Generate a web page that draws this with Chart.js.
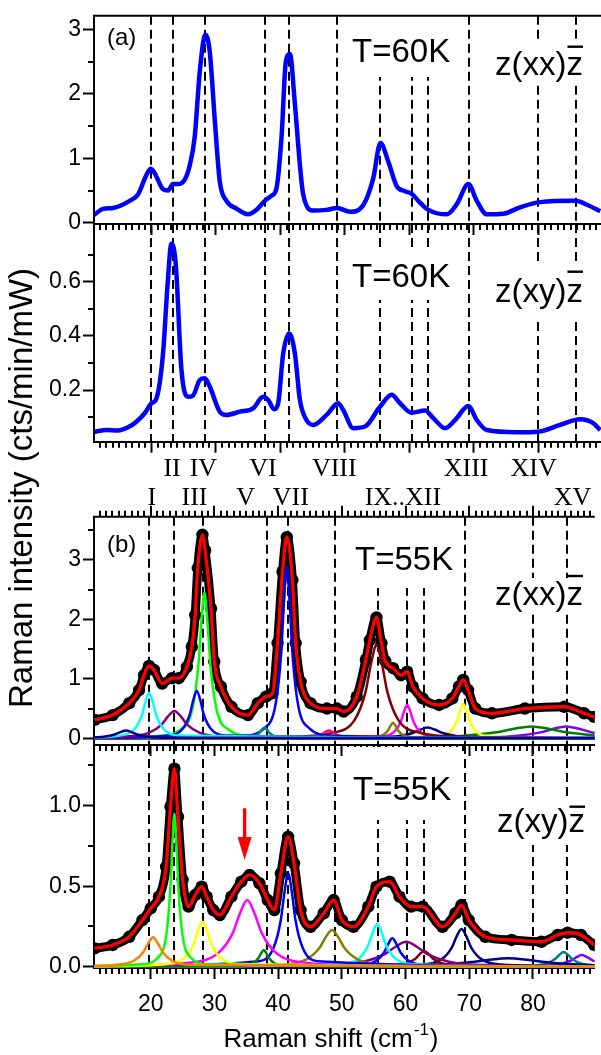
<!DOCTYPE html>
<html>
<head>
<meta charset="utf-8">
<script src="https://cdn.jsdelivr.net/npm/chart.js@4.4.1/dist/chart.umd.min.js"></script>
<style>
  html, body { margin: 0; padding: 0; background: #fff; }
  #wrap { position: relative; width: 601px; height: 1055px; overflow: hidden; background: #fff; }
  #wrap canvas { position: absolute; left: 0; top: 0; }
</style>
</head>
<body>
<div id="wrap">
  <canvas id="panelA1" width="601" height="1055"></canvas>
  <canvas id="panelA2" width="601" height="1055"></canvas>
  <canvas id="panelB1" width="601" height="1055"></canvas>
  <canvas id="panelB2" width="601" height="1055"></canvas>
</div>
<script>
// ---- axes (Raman shift in cm-1) ----
const xRange = [11.1, 89.7];
const xMajorTicks = [20, 30, 40, 50, 60, 70, 80];
const xMinorTicks = [];
for (let v = 12; v <= 89; v++) {
  if (v % 10 !== 0) xMinorTicks.push(v);
}

// mode positions (dashed lines) and their roman labels
const modesA = [20.0, 23.35, 28.38, 37.6, 41.36, 48.81, 55.44, 60.36, 62.94, 69.26, 79.95, 85.79];
const modesB = [19.74, 23.72, 28.27, 38.21, 41.47, 48.96, 55.7, 60.25, 62.93, 69.29, 80.0, 85.28];
const romanRow1 = ["II", "IV", "VI", "VIII", "XIII", "XIV"];
const romanRow1X = [23.35, 28.27, 37.6, 48.81, 69.5, 80.1];
const romanRow2 = ["I", "III", "V", "VII", "IX..XII", "XV"];
const romanRow2X = [20.16, 26.88, 34.9, 41.98, 59.58, 86.2];

// ---- (a) T=60K, z(xx)z ----
const xxA60 = [[11.1,0.12],[12.49,0.216],[14.04,0.23],[16.63,0.34],[17.92,0.44],[19.22,0.74],[19.89,0.84],[20.51,0.77],[21.8,0.52],[22.58,0.5],[23.35,0.6],[24.13,0.6],[25.17,0.67],[25.94,0.89],[26.72,1.34],[27.5,2.35],[28.38,2.92],[29.05,2.65],[29.83,1.59],[30.6,0.64],[31.64,0.34],[33.19,0.22],[34.99,0.13],[36.3,0.2],[37.58,0.34],[38.63,0.42],[39.4,0.54],[40.18,1.34],[40.84,2.5],[41.47,2.62],[42.24,1.85],[43.02,0.9],[43.53,0.44],[45.08,0.19],[47.16,0.2],[48.81,0.23],[50.78,0.17],[52.59,0.24],[54.39,0.69],[55.5,1.24],[56.72,0.95],[58.03,0.57],[59.31,0.49],[60.35,0.45],[61.38,0.34],[62.93,0.2],[65.79,0.13],[67.34,0.29],[69.14,0.6],[70.44,0.34],[72.0,0.13],[74.57,0.14],[77.16,0.24],[80.27,0.32],[85.7,0.34],[87.52,0.28],[89.58,0.18]];

// ---- (a) T=60K, z(xy)z ----
const xyA60 = [[11.2,0.046],[13.02,0.052],[14.82,0.05],[16.37,0.062],[17.67,0.083],[18.96,0.114],[20.0,0.151],[20.78,0.169],[21.8,0.335],[22.48,0.58],[23.1,0.74],[23.77,0.667],[24.66,0.274],[25.68,0.175],[26.46,0.18],[27.5,0.237],[28.27,0.243],[29.05,0.212],[30.6,0.12],[31.64,0.108],[33.7,0.12],[35.77,0.132],[37.32,0.175],[38.1,0.163],[39.03,0.129],[39.65,0.151],[40.43,0.335],[41.36,0.409],[42.24,0.335],[43.02,0.163],[43.79,0.1],[45.08,0.071],[47.16,0.108],[48.96,0.151],[49.74,0.126],[51.29,0.059],[53.11,0.065],[55.43,0.138],[57.25,0.182],[58.54,0.151],[60.35,0.116],[62.42,0.124],[63.71,0.096],[65.52,0.059],[67.07,0.089],[69.14,0.141],[70.44,0.089],[72.0,0.052],[76.65,0.044],[80.0,0.046],[83.37,0.071],[86.48,0.092],[88.54,0.077],[89.58,0.052]];

// ---- (b) T=55K, z(xx)z : measured points and fitted components ----
const xxB55 = [[11.2,0.31],[14.04,0.39],[16.63,0.59],[18.18,0.81],[18.96,1.06],[19.74,1.215],[20.51,1.15],[21.8,0.92],[23.35,1.01],[24.39,1.01],[25.68,1.2],[26.46,1.54],[26.98,2.07],[27.39,2.86],[28.12,3.42],[28.54,3.16],[29.47,2.18],[29.98,1.29],[31.02,0.87],[32.67,0.53],[35.26,0.39],[36.81,0.59],[38.1,0.7],[39.14,0.76],[39.91,1.6],[40.69,2.8],[41.36,3.38],[42.24,2.66],[42.75,1.6],[43.53,0.95],[45.08,0.59],[47.67,0.5],[49.23,0.5],[50.27,0.45],[52.33,0.7],[53.77,1.32],[54.39,1.65],[55.43,2.03],[56.21,1.6],[56.8,1.3],[58.03,1.18],[59.31,1.06],[60.25,1.12],[61.13,0.87],[62.68,0.67],[65.26,0.56],[67.34,0.67],[68.37,0.87],[69.05,0.98],[69.82,0.81],[70.95,0.5],[73.55,0.42],[78.72,0.5],[84.92,0.53],[88.03,0.42],[89.6,0.36]];
const xxNavy16 = [[11.1,0.014],[12.62,0.026],[14.37,0.065],[15.25,0.104],[16.12,0.13],[16.99,0.104],[17.87,0.065],[19.62,0.026],[23.12,0.008],[89.7,0]];
const xxCyan20 = [[11.1,0.013],[15.14,0.045],[17.44,0.152],[18.59,0.38],[19.17,0.608],[19.74,0.76],[20.32,0.608],[20.89,0.38],[22.04,0.152],[24.34,0.045],[89.7,0]];
const xxPurple24 = [[11.1,0.011],[15.72,0.027],[19.72,0.092],[21.72,0.23],[22.72,0.368],[23.72,0.46],[24.72,0.368],[25.72,0.23],[27.72,0.092],[31.72,0.027],[89.7,0]];
const xxBlue27 = [[11.1,0.005],[22.83,0.047],[25.03,0.16],[26.13,0.4],[26.68,0.64],[27.23,0.8],[27.78,0.64],[28.33,0.4],[29.43,0.16],[31.63,0.047],[89.7,0]];
const xxGreen28 = [[11.1,0.007],[20.83,0.038],[24.63,0.145],[26.53,0.49],[27.48,1.225],[27.96,1.96],[28.43,2.45],[28.9,1.96],[29.38,1.225],[30.33,0.49],[32.23,0.145],[36.03,0.038],[89.7,0.002]];
const xxTeal38 = [[11.1,0],[34.65,0.011],[36.25,0.036],[37.05,0.09],[37.45,0.144],[37.85,0.18],[38.25,0.144],[38.65,0.09],[39.45,0.036],[41.05,0.011],[89.7,0]];
const xxBlue41 = [[11.1,0.005],[34.36,0.044],[37.86,0.17],[39.61,0.576],[40.49,1.44],[40.92,2.304],[41.36,2.88],[41.8,2.304],[42.24,1.44],[43.11,0.576],[44.86,0.17],[48.36,0.044],[89.7,0.003]];
const xxPink48 = [[11.1,0],[43.34,0.008],[45.64,0.026],[46.79,0.065],[47.37,0.104],[47.94,0.13],[48.52,0.104],[49.09,0.065],[50.24,0.026],[52.54,0.008],[89.7,0]];
const xxMaroon55 = [[11.1,0.002],[41.83,0.024],[48.63,0.093],[52.03,0.314],[53.73,0.785],[54.58,1.256],[55.43,1.57],[56.28,1.256],[57.13,0.785],[58.83,0.314],[62.23,0.093],[69.03,0.024],[89.7,0.004]];
const xxOlive58 = [[11.1,0],[54.83,0.015],[56.43,0.052],[57.23,0.13],[57.63,0.208],[58.03,0.26],[58.43,0.208],[58.83,0.13],[59.63,0.052],[61.23,0.015],[89.7,0]];
const xxMagenta60 = [[11.1,0],[56.25,0.033],[58.25,0.112],[59.25,0.28],[59.75,0.448],[60.25,0.56],[60.75,0.448],[61.25,0.28],[62.25,0.112],[64.25,0.033],[89.7,0]];
const xxNavy63 = [[11.1,0],[54.06,0.011],[58.76,0.036],[61.11,0.09],[62.29,0.144],[63.46,0.18],[64.64,0.144],[65.81,0.09],[68.16,0.036],[72.86,0.011],[89.7,0]];
const xxYellow69 = [[11.1,0],[65.05,0.034],[67.05,0.116],[68.05,0.29],[68.55,0.464],[69.05,0.58],[69.55,0.464],[70.05,0.29],[71.05,0.116],[73.05,0.034],[89.7,0]];
const xxGreen80 = [[11.1,0.001],[57.75,0.012],[68.75,0.04],[74.25,0.1],[77.0,0.16],[79.75,0.2],[82.5,0.16],[85.25,0.1],[89.7,0.047]];
const xxViolet85 = [[11.1,0],[69.19,0.012],[77.19,0.04],[81.19,0.1],[83.19,0.16],[85.19,0.2],[87.19,0.16],[89.19,0.1],[89.7,0.088]];
const baseLine = [[11.1,0],[89.7,0]];

// ---- (b) T=55K, z(xy)z : measured points and fitted components ----
const xyB55 = [[11.2,0.114],[14.04,0.135],[16.63,0.186],[18.7,0.29],[20.0,0.363],[21.29,0.435],[22.42,0.62],[23.1,0.994],[23.72,1.23],[24.28,0.93],[25.01,0.54],[25.94,0.373],[26.98,0.445],[28.01,0.497],[28.78,0.435],[29.82,0.352],[30.86,0.321],[32.66,0.435],[34.22,0.528],[35.52,0.57],[37.07,0.518],[38.36,0.414],[39.4,0.352],[40.43,0.58],[41.57,0.807],[42.5,0.642],[43.53,0.352],[45.08,0.248],[47.16,0.332],[48.71,0.414],[50.0,0.29],[51.82,0.248],[54.15,0.373],[55.43,0.497],[57.5,0.528],[59.05,0.435],[60.87,0.373],[62.68,0.373],[65.79,0.248],[67.85,0.332],[68.78,0.383],[69.92,0.29],[72.51,0.186],[76.65,0.166],[81.31,0.155],[83.88,0.197],[85.44,0.211],[87.52,0.197],[89.6,0.135]];
const xyOrange20 = [[11.1,0.005],[14.36,0.011],[17.36,0.037],[18.86,0.092],[19.61,0.146],[20.36,0.183],[21.11,0.146],[21.86,0.092],[23.36,0.037],[26.36,0.011],[89.7,0]];
const xyGreen24 = [[11.1,0.003],[18.52,0.015],[21.12,0.056],[22.42,0.19],[23.07,0.475],[23.4,0.76],[23.72,0.95],[24.05,0.76],[24.37,0.475],[25.02,0.19],[26.32,0.056],[28.92,0.015],[89.7,0]];
const xyYellow28 = [[11.1,0.002],[22.52,0.017],[25.32,0.056],[26.72,0.14],[27.42,0.224],[28.12,0.28],[28.82,0.224],[29.52,0.14],[30.92,0.056],[33.72,0.017],[89.7,0]];
const xyMagenta35 = [[11.1,0.003],[16.75,0.006],[25.95,0.024],[30.55,0.083],[32.85,0.207],[34.0,0.331],[35.15,0.414],[36.3,0.331],[37.45,0.207],[39.75,0.083],[44.35,0.024],[53.55,0.006],[89.7,0.001]];
const xyDkGreen38 = [[11.1,0],[34.34,0.006],[36.04,0.021],[36.89,0.052],[37.32,0.083],[37.74,0.104],[38.17,0.083],[38.59,0.052],[39.44,0.021],[41.14,0.006],[89.7,0]];
const xyBlue42 = [[11.1,0.002],[36.97,0.034],[39.27,0.116],[40.42,0.29],[41.0,0.464],[41.57,0.58],[42.15,0.464],[42.72,0.29],[43.87,0.116],[46.17,0.034],[89.7,0]];
const xyOlive48 = [[11.1,0.001],[40.45,0.013],[44.45,0.046],[46.45,0.114],[47.45,0.182],[48.45,0.228],[49.45,0.182],[50.45,0.114],[52.45,0.046],[56.45,0.013],[89.7,0]];
const xyCyan56 = [[11.1,0],[49.94,0.016],[52.74,0.053],[54.14,0.133],[54.84,0.212],[55.54,0.265],[56.24,0.212],[56.94,0.133],[58.34,0.053],[61.14,0.016],[89.7,0]];
const xyBlue58 = [[11.1,0],[52.72,0.01],[55.32,0.035],[56.62,0.088],[57.27,0.141],[57.92,0.176],[58.57,0.141],[59.22,0.088],[60.52,0.035],[63.12,0.01],[89.7,0]];
const xyPurple60 = [[11.1,0.001],[46.69,0.009],[53.39,0.031],[56.74,0.078],[58.42,0.124],[60.09,0.155],[61.77,0.124],[63.44,0.078],[66.79,0.031],[73.49,0.009],[89.7,0.002]];
const xyMaroon63 = [[11.1,0],[57.33,0.006],[60.13,0.02],[61.53,0.049],[62.23,0.078],[62.93,0.0975],[63.63,0.078],[64.33,0.049],[65.73,0.02],[68.53,0.006],[89.7,0]];
const xyNavy69 = [[11.1,0],[62.58,0.014],[65.68,0.047],[67.23,0.117],[68.0,0.187],[68.78,0.234],[69.56,0.187],[70.33,0.117],[71.88,0.047],[74.98,0.014],[89.7,0.001]];
const xyNavy76 = [[11.1,0.001],[50.32,0.003],[63.22,0.0104],[69.67,0.026],[72.9,0.0416],[76.12,0.052],[79.35,0.0416],[82.57,0.026],[89.02,0.0104],[89.7,0.0096]];
const xyTeal85 = [[11.1,0],[79.21,0.005],[82.01,0.018],[83.41,0.046],[84.11,0.073],[84.81,0.091],[85.51,0.073],[86.21,0.046],[87.61,0.018],[89.7,0.007]];
const xyViolet88 = [[11.1,0],[80.47,0.004],[84.07,0.015],[85.87,0.037],[86.77,0.058],[87.67,0.073],[88.57,0.058],[89.47,0.037],[89.7,0.033]];

// red arrow marking mode V in z(xy)z at 55K: x, top, tip
const arrowV = [34.74, 0.984, 0.663];

// ---- drawing ----
const FONT = '"Liberation Sans", Arial, Helvetica, sans-serif';
const SERIF = '"Liberation Serif", "Times New Roman", serif';
const PAGE_H = 1055;

const toXY = (arr) => arr.map((p) => ({ x: p[0], y: p[1] }));

const curve = (arr, color, width) => ({
  data: toXY(arr),
  borderColor: color,
  borderWidth: width,
  pointRadius: 0,
  fill: false,
  cubicInterpolationMode: "monotone",
  clip: 0,
});

const dots = (arr) => ({
  data: toXY(arr),
  borderColor: "#000",
  backgroundColor: "#000",
  pointBackgroundColor: "#000",
  borderWidth: 9,
  pointRadius: 6.2,
  pointBorderWidth: 0,
  fill: false,
  cubicInterpolationMode: "monotone",
  clip: 0,
});

const drawLabel = (ctx, t) => {
  ctx.font = `${t.size}px ${FONT}`;
  ctx.textAlign = "left";
  ctx.textBaseline = "alphabetic";
  ctx.fillStyle = "#000";
  ctx.fillText(t.text, t.x, t.y);
  if (t.bar) {
    const w0 = ctx.measureText(t.text.slice(0, -1)).width;
    const w1 = ctx.measureText(t.text).width;
    ctx.fillRect(t.x + w0 + 1, t.bar - 1.2, w1 - w0 - 1, 2.4);
  }
};

const decoPlugin = {
  id: "deco",
  beforeDatasetsDraw(chart, args, o) {
    const { ctx, chartArea: a } = chart;
    const xs = chart.scales.x;
    ctx.save();
    ctx.strokeStyle = "#000";
    ctx.lineWidth = 2;
    ctx.setLineDash([9, 5]);
    (o.modes || []).forEach((v) => {
      const px = Math.round(xs.getPixelForValue(v));
      ctx.beginPath();
      ctx.moveTo(px, a.top);
      ctx.lineTo(px, a.bottom);
      ctx.stroke();
    });
    ctx.setLineDash([]);
    ctx.fillStyle = "#fff";
    (o.boxes || []).forEach((b) => ctx.fillRect(b[0], b[1], b[2] - b[0], b[3] - b[1]));
    (o.texts || []).forEach((t) => drawLabel(ctx, t));
    ctx.restore();
  },
  afterDraw(chart, args, o) {
    const { ctx, chartArea: a } = chart;
    const xs = chart.scales.x;
    const ys = chart.scales.y;
    ctx.save();
    ctx.strokeStyle = "#000";
    ctx.lineWidth = 2;
    ctx.beginPath();
    xMinorTicks.forEach((v) => {
      const px = Math.round(xs.getPixelForValue(v));
      ctx.moveTo(px, a.bottom);
      ctx.lineTo(px, a.bottom + 6);
    });
    if (o.topTicks) {
      xMinorTicks.forEach((v) => {
        const px = Math.round(xs.getPixelForValue(v));
        ctx.moveTo(px, a.top);
        ctx.lineTo(px, a.top - 6);
      });
      xMajorTicks.forEach((v) => {
        const px = Math.round(xs.getPixelForValue(v));
        ctx.moveTo(px, a.top);
        ctx.lineTo(px, a.top - 11);
      });
    }
    (o.yMinor || []).forEach((v) => {
      const py = Math.round(ys.getPixelForValue(v));
      ctx.moveTo(a.left, py);
      ctx.lineTo(a.left - 6, py);
    });
    ctx.stroke();
    if (o.topLine) {
      ctx.beginPath();
      ctx.moveTo(a.left - 1, a.top);
      ctx.lineTo(a.right, a.top);
      ctx.stroke();
    }
    if (o.extra) o.extra(chart);
    ctx.restore();
  },
};

const makePanel = (id, cfg) =>
  new Chart(document.getElementById(id), {
    type: "line",
    data: { datasets: cfg.datasets },
    options: {
      responsive: false,
      animation: false,
      devicePixelRatio: 1,
      events: [],
      layout: { padding: { top: cfg.top, bottom: PAGE_H - cfg.bottom - cfg.xHeight, left: 0, right: 0 } },
      plugins: { legend: { display: false }, tooltip: { enabled: false }, deco: cfg.deco },
      scales: {
        x: {
          type: "linear",
          min: xRange[0],
          max: xRange[1],
          afterBuildTicks: (s) => {
            s.ticks = xMajorTicks.map((v) => ({ value: v }));
          },
          afterFit: (s) => {
            s.height = cfg.xHeight;
          },
          grid: { drawOnChartArea: false, drawTicks: true, tickLength: 11, tickWidth: 2, tickColor: "#000" },
          border: { color: "#000", width: 2 },
          ticks: {
            display: !!cfg.xLabels,
            autoSkip: false,
            maxRotation: 0,
            color: "#000",
            padding: 12,
            font: { family: FONT, size: 23 },
          },
        },
        y: {
          type: "linear",
          min: cfg.yRange[0],
          max: cfg.yRange[1],
          afterBuildTicks: (s) => {
            s.ticks = cfg.yMajor.map((v) => ({ value: v }));
          },
          afterFit: (s) => {
            s.width = 94;
          },
          grid: { drawOnChartArea: false, drawTicks: true, tickLength: 11, tickWidth: 2, tickColor: "#000" },
          border: { color: "#000", width: 2, dash: cfg.yDash || [] },
          ticks: {
            autoSkip: false,
            color: "#000",
            padding: 2,
            font: { family: FONT, size: 23 },
            callback: cfg.fmt,
          },
        },
      },
    },
    plugins: [decoPlugin],
  });

// (a) z(xx)z 60K
makePanel("panelA1", {
  top: 9,
  bottom: 224,
  xHeight: 12,
  yRange: [-0.0195, 3.2135],
  yMajor: [0, 1, 2, 3],
  fmt: (v) => String(v),
  datasets: [curve(xxA60, "#0000ff", 4.5)],
  deco: {
    modes: modesA,
    yMinor: [0.5, 1.5, 2.5],
    topLine: true,
    boxes: [[345, 10, 460, 77], [488, 42, 592, 82]],
    texts: [
      { text: "(a)", x: 107, y: 45, size: 24 },
      { text: "T=60K", x: 352, y: 61.7, size: 33 },
      { text: "z(xx)z", x: 495, y: 75, size: 33, bar: 46.7 },
    ],
  },
});

// (a) z(xy)z 60K
makePanel("panelA2", {
  top: 224,
  bottom: 441.7,
  xHeight: 12,
  yRange: [0.009, 0.8133],
  yMajor: [0.2, 0.4, 0.6],
  fmt: (v) => v.toFixed(1),
  datasets: [curve(xyA60, "#0000ff", 4.5)],
  deco: {
    modes: modesA,
    yMinor: [0.1, 0.3, 0.5, 0.7],
    boxes: [[345, 251, 460, 300], [488, 262, 592, 318]],
    texts: [
      { text: "T=60K", x: 352, y: 286.7, size: 33 },
      { text: "z(xy)z", x: 495, y: 301.7, size: 33, bar: 271.7 },
    ],
  },
});

const xxFitComponents = [
  [xxNavy16, "#000080"], [xxCyan20, "#00ffff"], [xxPurple24, "#800080"], [xxBlue27, "#0000ff"],
  [xxGreen28, "#00ff00"], [xxTeal38, "#008080"], [xxBlue41, "#0000ff"], [xxPink48, "#ff0080"],
  [xxMaroon55, "#800000"], [xxOlive58, "#808000"], [xxMagenta60, "#ff00ff"], [xxNavy63, "#000080"],
  [xxYellow69, "#ffff00"], [xxGreen80, "#008000"], [xxViolet85, "#8000ff"],
];

const xyFitComponents = [
  [xyOrange20, "#ff8000"], [xyGreen24, "#00ff00"], [xyYellow28, "#ffff00"], [xyMagenta35, "#ff00ff"],
  [xyDkGreen38, "#008000"], [xyBlue42, "#0000ff"], [xyOlive48, "#808000"], [xyCyan56, "#00ffff"],
  [xyBlue58, "#0000ff"], [xyPurple60, "#800080"], [xyMaroon63, "#800000"], [xyNavy69, "#000080"],
  [xyNavy76, "#000099"], [xyTeal85, "#008080"], [xyViolet88, "#8000ff"],
];

// (b) z(xx)z 55K
makePanel("panelB1", {
  top: 516.7,
  bottom: 745,
  xHeight: 12,
  yRange: [-0.1126, 3.724],
  yMajor: [0, 1, 2, 3],
  fmt: (v) => String(v),
  datasets: [
    curve(xxB55, "#ff0000", 3.3),
    ...xxFitComponents.map((c) => curve(c[0], c[1], 2.5)),
    curve(baseLine, "#0000ff", 3),
    dots(xxB55),
  ],
  deco: {
    modes: modesB,
    yMinor: [0.5, 1.5, 2.5, 3.5],
    topLine: true,
    topTicks: true,
    boxes: [[345, 518, 460, 588], [488, 578, 592, 613]],
    texts: [
      { text: "(b)", x: 107, y: 552, size: 24 },
      { text: "T=55K", x: 355, y: 570, size: 33 },
      { text: "z(xx)z", x: 495, y: 605, size: 33, bar: 576 },
    ],
    extra: (chart) => {
      const { ctx } = chart;
      const xs = chart.scales.x;
      ctx.fillStyle = "#000";
      ctx.font = `26px ${SERIF}`;
      ctx.textAlign = "center";
      ctx.textBaseline = "alphabetic";
      romanRow1.forEach((t, i) => ctx.fillText(t, xs.getPixelForValue(romanRow1X[i]), 476));
      romanRow2.forEach((t, i) => ctx.fillText(t, xs.getPixelForValue(romanRow2X[i]), 505));
      ctx.save();
      ctx.translate(23, 488);
      ctx.rotate(-Math.PI / 2);
      ctx.font = `33px ${FONT}`;
      ctx.textBaseline = "middle";
      ctx.fillText("Raman intensity (cts/min/mW)", 0, 0);
      ctx.restore();
    },
  },
});

// (b) z(xy)z 55K
makePanel("panelB2", {
  top: 745,
  bottom: 968,
  xHeight: 87,
  xLabels: true,
  yRange: [-0.008, 1.377],
  yMajor: [0, 0.5, 1.0],
  yDash: [9, 5],
  fmt: (v) => v.toFixed(1),
  datasets: [
    curve(xyB55, "#ff0000", 3.3),
    ...xyFitComponents.map((c) => curve(c[0], c[1], 2.5)),
    curve(baseLine, "#0000ff", 3),
    dots(xyB55),
  ],
  deco: {
    modes: modesB,
    yMinor: [0.25, 0.75, 1.25],
    boxes: [[345, 747, 460, 820], [488, 796, 592, 845]],
    texts: [
      { text: "T=55K", x: 353, y: 800, size: 33 },
      { text: "z(xy)z", x: 497, y: 831.7, size: 33, bar: 806.7 },
    ],
    extra: (chart) => {
      const { ctx } = chart;
      const xs = chart.scales.x;
      const ys = chart.scales.y;
      // red arrow
      const ax = xs.getPixelForValue(arrowV[0]);
      const top = ys.getPixelForValue(arrowV[1]);
      const tip = ys.getPixelForValue(arrowV[2]);
      ctx.fillStyle = "#ff0000";
      ctx.fillRect(ax - 1.7, top, 3.4, tip - top - 20);
      ctx.beginPath();
      ctx.moveTo(ax - 7, tip - 23);
      ctx.lineTo(ax + 7, tip - 23);
      ctx.lineTo(ax, tip);
      ctx.closePath();
      ctx.fill();
      // x axis title with superscript
      ctx.fillStyle = "#000";
      ctx.textAlign = "left";
      ctx.textBaseline = "alphabetic";
      const main = "Raman shift (cm";
      const sup = "-1";
      ctx.font = `26px ${FONT}`;
      const w1 = ctx.measureText(main).width;
      const w3 = ctx.measureText(")").width;
      ctx.font = `17px ${FONT}`;
      const w2 = ctx.measureText(sup).width;
      const x0 = 330 - (w1 + w2 + w3) / 2;
      ctx.font = `26px ${FONT}`;
      ctx.fillText(main, x0, 1047);
      ctx.font = `17px ${FONT}`;
      ctx.fillText(sup, x0 + w1 + 1, 1035);
      ctx.font = `26px ${FONT}`;
      ctx.fillText(")", x0 + w1 + w2 + 2, 1047);
    },
  },
});
</script>
</body>
</html>
